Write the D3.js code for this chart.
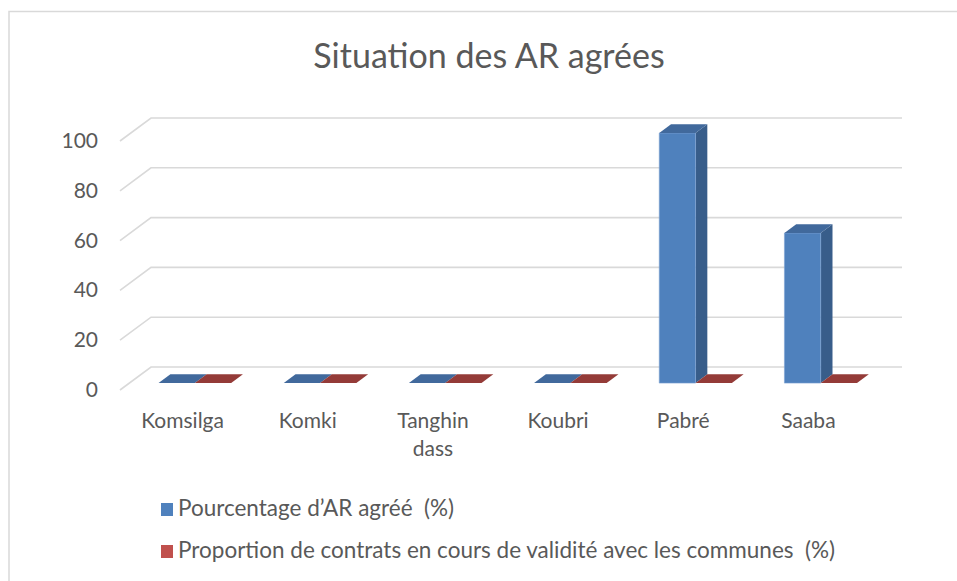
<!DOCTYPE html>
<html>
<head>
<meta charset="utf-8">
<script src="https://cdn.jsdelivr.net/npm/d3@7"></script>
<style>
  body { margin: 0; background: #fff; }
  svg { display: block; font-family: Lato, "Open Sans", sans-serif; }
  text { white-space: pre; }
</style>
</head>
<body>
<svg id="chart" width="957" height="581"></svg>
<script>
var title = "Situation des AR agrées";
var communes = ["Komsilga", "Komki", "Tanghin dass", "Koubri", "Pabré", "Saaba"];
var pctAgree = [0, 0, 0, 0, 100, 60];
var pctContrats = [0, 0, 0, 0, 0, 0];
var seriesNames = ["Pourcentage d\u2019AR agréé  (%)", "Proportion de contrats en cours de validité avec les communes  (%)"];
var yTicks = [0, 20, 40, 60, 80, 100];

var svg = d3.select("#chart");

// frame (top + left edges visible)
svg.append("path")
  .attr("d", "M9,957 V11.5 H957")
  .attr("fill", "none")
  .attr("stroke", "#d9d9d9")
  .attr("stroke-width", 1.5);

svg.append("text")
  .attr("x", 489).attr("y", 68)
  .attr("text-anchor", "middle")
  .attr("font-size", 34)
  .attr("fill", "#595959")
  .text(title);

// 3D projection: depth 0 = front of floor, 1 = back wall
var DX = 31, DY = -23;
var xScale = d3.scaleBand().domain(communes).range([120, 871]);
var yScale = d3.scaleLinear().domain([0, 100]).range([390, 141]);
var hScale = d3.scaleLinear().domain([0, 100]).range([0, 250]);
function proj(x, y, d) { return [x + DX * d, y + DY * d]; }

// gridlines on back wall + side diagonals
var grid = svg.append("g");
yTicks.forEach(function(t) {
  var y = yScale(t);
  var a = proj(120, y, 0), b = proj(120, y, 1), c = proj(871, y, 1);
  grid.append("path")
    .attr("d", "M" + a + "L" + b + "L" + c)
    .attr("fill", "none")
    .attr("stroke", "#d9d9d9")
    .attr("stroke-width", 1.6);
});

// y labels
svg.append("g").selectAll("text")
  .data(yTicks).enter().append("text")
  .attr("x", 98)
  .attr("y", function(d) { return yScale(d) + 7; })
  .attr("text-anchor", "end")
  .attr("font-size", 21)
  .attr("fill", "#595959")
  .text(function(d) { return d; });

// bars
var barW = xScale.bandwidth() * 0.29;
var d0 = 0.3, d1 = 0.68;
var series = [
  { values: pctAgree, front: "#4f81bd", side: "#385d8a", top: "#41699c", k: 0 },
  { values: pctContrats, front: "#c0504d", side: "#8c3836", top: "#943b38", k: 1 }
];
var barsG = svg.append("g");
series.forEach(function(s) {
  communes.forEach(function(c, i) {
    var v = s.values[i];
    var cx = xScale(c) + xScale.bandwidth() / 2 + 3;
    var x0 = cx + (s.k - 1) * barW;
    var x1 = x0 + barW;
    var yb = yScale(0), yt = yScale(0) - hScale(v);
    var fl = proj(x0, yt, d0), fr = proj(x1, yt, d0);
    var bl = proj(x0, yt, d1), br = proj(x1, yt, d1);
    var frb = proj(x1, yb, d0), brb = proj(x1, yb, d1);
    var flb = proj(x0, yb, d0);
    if (v > 0) {
      barsG.append("path")
        .attr("d", "M" + fr + "L" + br + "L" + brb + "L" + frb + "Z")
        .attr("fill", s.side);
      barsG.append("path")
        .attr("d", "M" + flb + "L" + frb + "L" + fr + "L" + fl + "Z")
        .attr("fill", s.front)
        .attr("stroke", "#7ea3d3").attr("stroke-width", 0.6);
    }
    barsG.append("path")
      .attr("d", "M" + fl + "L" + fr + "L" + br + "L" + bl + "Z")
      .attr("fill", s.top);
  });
});

// category labels
var catG = svg.append("g");
communes.forEach(function(c) {
  var words = c.split(" ");
  var t = catG.append("text")
    .attr("x", xScale(c) + xScale.bandwidth() / 2)
    .attr("y", 428)
    .attr("text-anchor", "middle")
    .attr("font-size", 21)
    .attr("fill", "#595959");
  words.forEach(function(w, j) {
    t.append("tspan")
      .attr("x", xScale(c) + xScale.bandwidth() / 2)
      .attr("dy", j === 0 ? 0 : 28)
      .text(w);
  });
});

// legend
var legend = svg.append("g").selectAll("g")
  .data(seriesNames).enter().append("g")
  .attr("transform", function(d, i) { return "translate(161," + (503 + i * 42) + ")"; });
legend.append("rect")
  .attr("width", 12).attr("height", 13)
  .attr("fill", function(d, i) { return series[i].front; });
legend.append("text")
  .attr("x", 17).attr("y", 13)
  .attr("font-size", 22.5)
  .attr("fill", "#595959")
  .text(function(d) { return d; });
</script>
</body>
</html>
